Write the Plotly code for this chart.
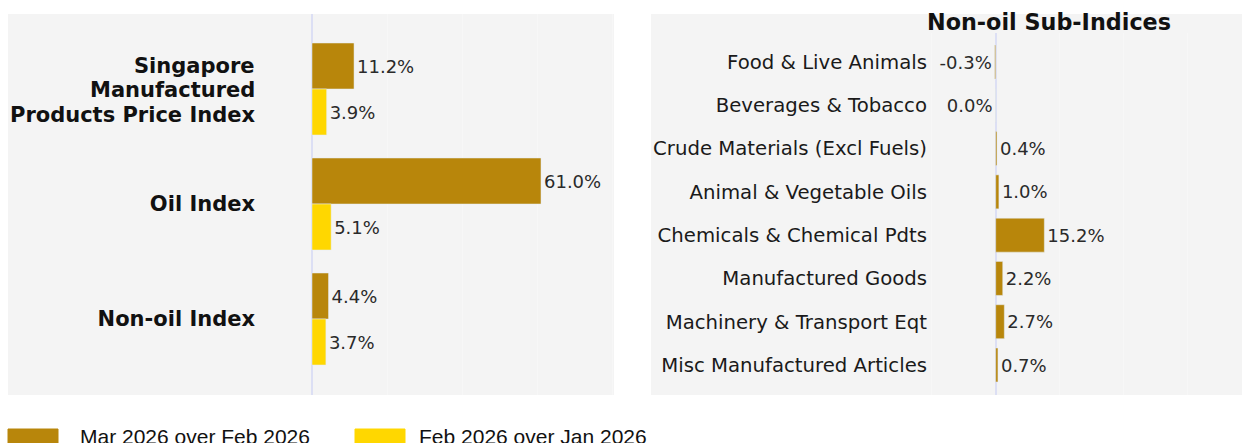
import plotly.graph_objects as go

# ---- data ----
main_categories = ["Singapore<br>Manufactured<br>Products Price Index", "Oil Index", "Non-oil Index"]
mar_over_feb = [11.2, 61.0, 4.4]
feb_over_jan = [3.9, 5.1, 3.7]

sub_categories = [
    "Food & Live Animals",
    "Beverages & Tobacco",
    "Crude Materials (Excl Fuels)",
    "Animal & Vegetable Oils",
    "Chemicals & Chemical Pdts",
    "Manufactured Goods",
    "Machinery & Transport Eqt",
    "Misc Manufactured Articles",
]
sub_mar_over_feb = [-0.3, -0.04, 0.4, 1.0, 15.2, 2.2, 2.7, 0.7]

series_names = ["Mar 2026 over Feb 2026", "Feb 2026 over Jan 2026"]
colors = ["#B8860B", "#FFD700"]


def fmt(v):
    r = round(v, 1)
    if r == 0:
        r = 0.0
    return f"{r:.1f}%"


W, H = 1242, 443


def px_x(p):
    return p / W


def px_y(p):
    return 1 - p / H


fig = go.Figure()

bar_line = dict(color="#E5ECF6", width=0.5)
val_font = dict(family="DejaVu Sans", size=18, color="#2a2a2a")

fig.add_trace(go.Bar(
    y=list(range(len(main_categories))), x=mar_over_feb, orientation="h",
    name=series_names[0], marker=dict(color=colors[0], line=bar_line),
    text=[fmt(v) for v in mar_over_feb], textposition="outside",
    textfont=val_font, cliponaxis=False, xaxis="x", yaxis="y", showlegend=False,
))
fig.add_trace(go.Bar(
    y=list(range(len(main_categories))), x=feb_over_jan, orientation="h",
    name=series_names[1], marker=dict(color=colors[1], line=bar_line),
    text=[fmt(v) for v in feb_over_jan], textposition="outside",
    textfont=val_font, cliponaxis=False, xaxis="x", yaxis="y", showlegend=False,
))
fig.add_trace(go.Bar(
    y=list(range(len(sub_categories))), x=sub_mar_over_feb, orientation="h",
    name=series_names[0], marker=dict(color=colors[0], line=bar_line),
    text=[fmt(v) for v in sub_mar_over_feb], textposition="outside",
    textfont=val_font, cliponaxis=False, xaxis="x2", yaxis="y2", showlegend=False,
    width=0.785, offsetgroup="sub",
))

left_x0, left_x1, left_zero, left_scale = 256, 614, 312, 3.754
right_x0, right_x1, right_zero, right_scale = 928, 1242, 995.7, 3.2

common_x = dict(showticklabels=False, showgrid=True, gridcolor="#f7f7f7", gridwidth=1,
                dtick=20, zeroline=True, zerolinecolor="#dcdff4", zerolinewidth=2,
                showline=False, ticks="", fixedrange=True)

bold_font = dict(family="DejaVu Sans", size=21, color="#111111")

# first left label is multi-line: drawn as separate lines for tight spacing
left_ticktext = ["" if "<br>" in c else f"<b>{c}</b>" for c in main_categories]

fig.update_layout(
    width=W, height=H, autosize=False,
    margin=dict(l=0, r=0, t=0, b=0),
    paper_bgcolor="white", plot_bgcolor="#f4f4f4",
    barmode="group", bargap=0.2, bargroupgap=0,
    font=dict(family="DejaVu Sans", color="#111111"),
    xaxis=dict(domain=[px_x(left_x0), px_x(left_x1)],
               range=[-(left_zero - left_x0) / left_scale, (left_x1 - left_zero) / left_scale],
               anchor="y", **common_x),
    yaxis=dict(domain=[px_y(395), px_y(14)], anchor="x",
               range=[2 + (395 - 319) / 115, -(89 - 14) / 115],
               tickmode="array", tickvals=list(range(len(main_categories))),
               ticktext=left_ticktext, tickfont=bold_font,
               showgrid=False, zeroline=False, ticks=""),
    xaxis2=dict(domain=[px_x(right_x0), px_x(right_x1)],
                range=[-(right_zero - right_x0) / right_scale, (right_x1 - right_zero) / right_scale],
                anchor="y2", **common_x),
    yaxis2=dict(domain=[px_y(395), px_y(33)], anchor="x2",
                range=[7 + (395 - 365) / 43.29, -(62 - 33) / 43.29],
                tickmode="array", tickvals=list(range(len(sub_categories))),
                ticktext=sub_categories,
                tickfont=dict(family="DejaVu Sans", size=19.7, color="#1a1a1a"),
                showgrid=False, zeroline=False, ticks=""),
    showlegend=False,
)

# multi-line label lines
for c in main_categories:
    if "<br>" in c:
        lines = c.split("<br>")
        for ly, line in zip([66, 90.5, 115], lines):
            fig.add_annotation(xref="paper", yref="paper", x=px_x(257), y=px_y(ly),
                               text=f"<b>{line}</b>", showarrow=False,
                               xanchor="right", yanchor="middle", font=bold_font)

# panel backgrounds
for x0, x1 in [(8, 614), (651, 1242)]:
    fig.add_shape(type="rect", xref="paper", yref="paper", layer="below",
                  x0=px_x(x0), x1=px_x(x1), y0=px_y(395), y1=px_y(14),
                  fillcolor="#f4f4f4", line=dict(width=0))

# right panel title
fig.add_annotation(xref="paper", yref="paper", x=px_x(1049), y=px_y(22),
                   text="<b>Non-oil Sub-Indices</b>", showarrow=False,
                   xanchor="center", yanchor="middle",
                   font=dict(family="DejaVu Sans", size=22.3, color="#111111"))

# legend (below panels)
for sx, tx, name, col in [(8, 78, series_names[0], colors[0]), (355, 417, series_names[1], colors[1])]:
    fig.add_shape(type="rect", xref="paper", yref="paper",
                  x0=px_x(sx), x1=px_x(sx + 50), y0=px_y(455), y1=px_y(429),
                  fillcolor=col, line=dict(color=col, width=1))
    fig.add_annotation(xref="paper", yref="paper", x=px_x(tx), y=px_y(423),
                       text=name, showarrow=False, xanchor="left", yanchor="top",
                       font=dict(family="Liberation Sans", size=21, color="#111111"))

fig.write_html("out.html", config=dict(displayModeBar=False))
